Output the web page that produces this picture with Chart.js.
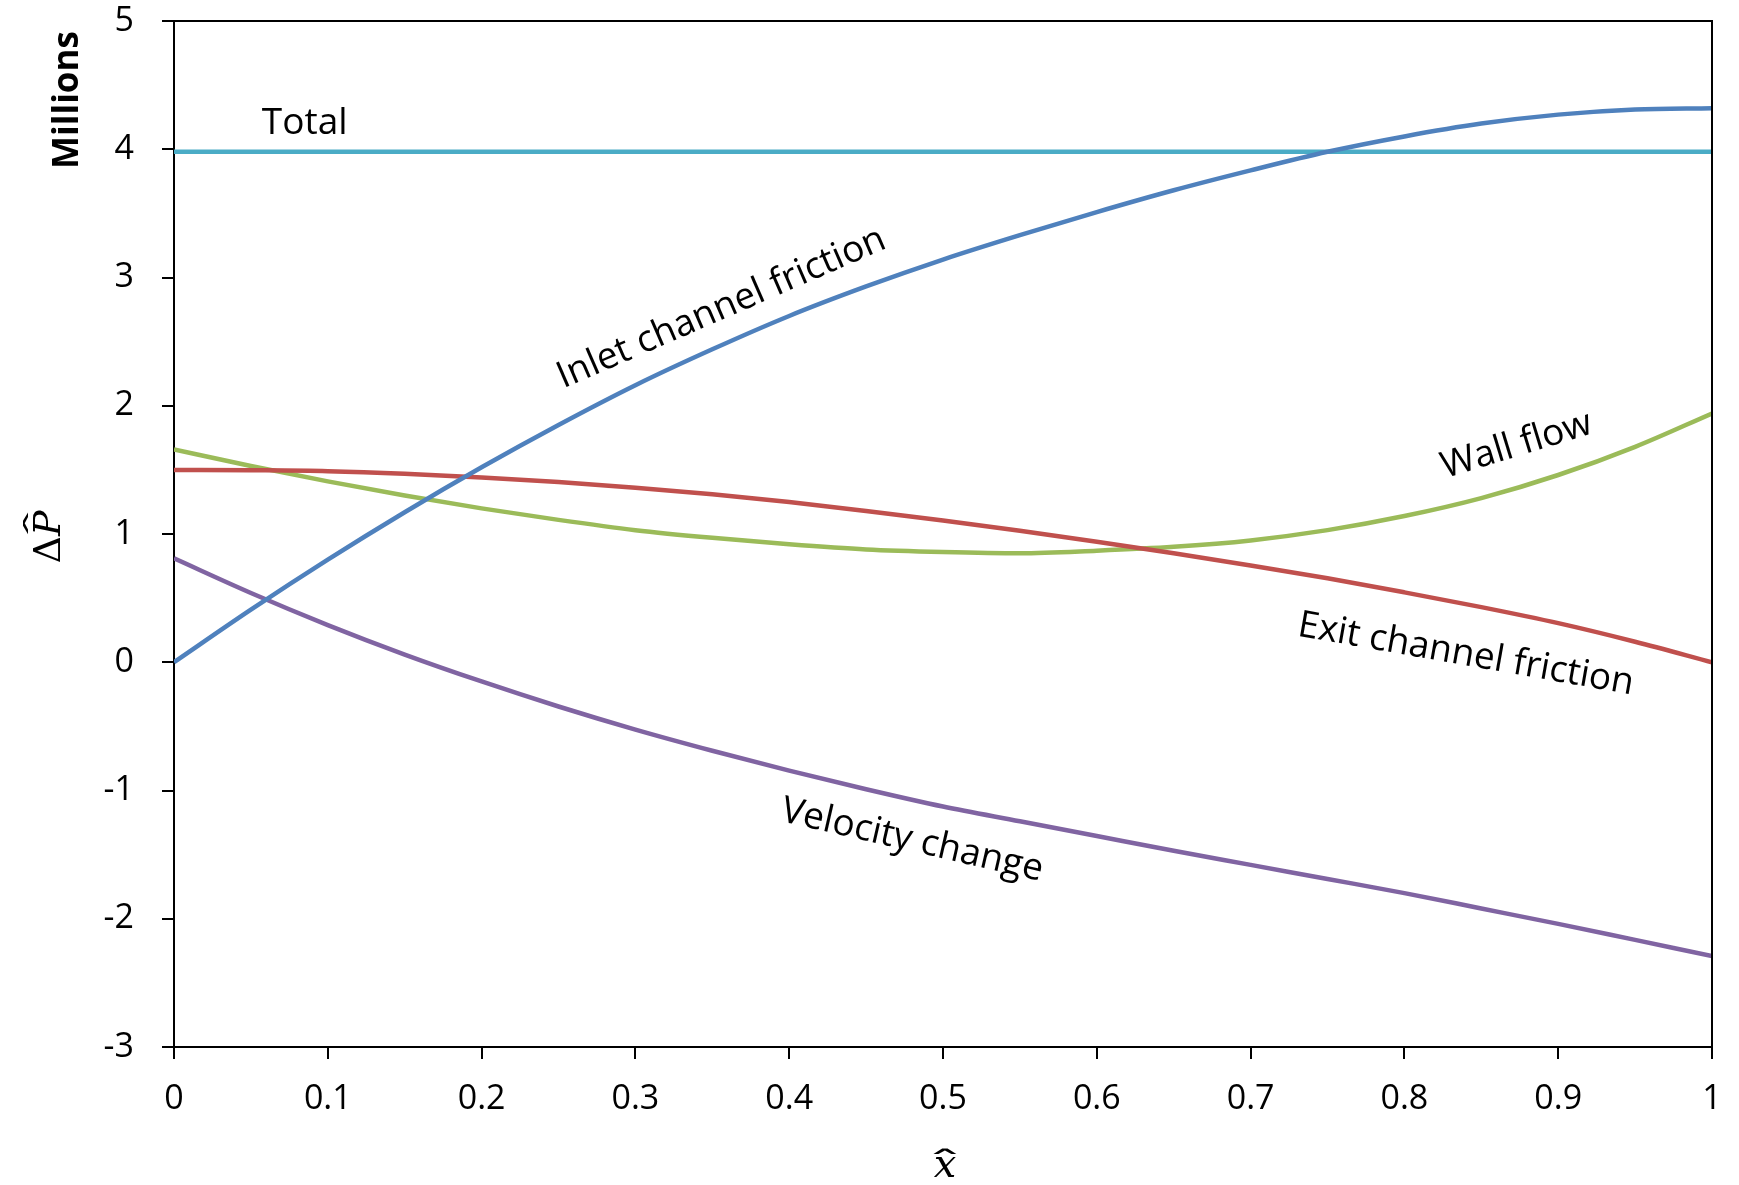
<!DOCTYPE html>
<html lang="en">
<head>
  <meta charset="UTF-8">
  <title>Pressure drop components</title>
  <script src="https://cdn.jsdelivr.net/npm/chart.js"></script>
  <style>
    html, body { margin: 0; padding: 0; background: #fff; }
  </style>
</head>
<body>
  <canvas id="chart" width="1739" height="1185"></canvas>

  <script>
    // values (y in millions)
    const xValues = [0, 0.05, 0.1, 0.15, 0.2, 0.25, 0.3, 0.35, 0.4, 0.45, 0.5,
                     0.55, 0.6, 0.65, 0.7, 0.75, 0.8, 0.85, 0.9, 0.95, 1];
    const inletFriction = [0, 0.41, 0.80, 1.17, 1.52, 1.85, 2.16, 2.44, 2.70, 2.93, 3.14,
                           3.33, 3.51, 3.68, 3.835, 3.98, 4.10, 4.20, 4.27, 4.31, 4.32];
    const exitFriction = [1.50, 1.497, 1.49, 1.47, 1.44, 1.405, 1.36, 1.31, 1.25, 1.18, 1.105,
                          1.025, 0.94, 0.85, 0.755, 0.655, 0.545, 0.43, 0.305, 0.16, 0];
    const wallFlow = [1.66, 1.53, 1.41, 1.30, 1.20, 1.11, 1.03, 0.97, 0.92, 0.88, 0.86,
                      0.85, 0.87, 0.90, 0.95, 1.03, 1.14, 1.28, 1.46, 1.68, 1.94];
    const velocityChange = [0.81, 0.54, 0.29, 0.06, -0.15, -0.345, -0.525, -0.69, -0.845, -0.99, -1.125,
                            -1.24, -1.355, -1.47, -1.58, -1.69, -1.80, -1.92, -2.04, -2.165, -2.29];
    const totalX = [0, 1];
    const totalValues = [3.98, 3.98];

    const xTicks = [0, 0.1, 0.2, 0.3, 0.4, 0.5, 0.6, 0.7, 0.8, 0.9, 1];
    const xTickLabels = ['0', '0.1', '0.2', '0.3', '0.4', '0.5', '0.6', '0.7', '0.8', '0.9', '1'];
    const yTicks = [-3, -2, -1, 0, 1, 2, 3, 4, 5];
    const yTickLabels = ['-3', '-2', '-1', '0', '1', '2', '3', '4', '5'];

    // text written next to the curves (data coordinates, angle in degrees)
    const curveLabels = [
      { text: 'Total', x: 0.085, y: 4.20, angle: 0 },
      { text: 'Inlet channel friction', x: 0.356, y: 2.76, angle: -23.5 },
      { text: 'Wall flow', x: 0.873, y: 1.69, angle: -17 },
      { text: 'Exit channel friction', x: 0.840, y: 0.06, angle: 10 },
      { text: 'Velocity change', x: 0.480, y: -1.39, angle: 13 }
    ];

    Chart.defaults.font.family = '"Open Sans", sans-serif';
    Chart.defaults.color = '#000';

    function points(xs, ys) {
      return xs.map((x, i) => ({ x: x, y: ys[i] }));
    }

    function series(label, xs, ys, color) {
      return {
        label: label,
        data: points(xs, ys),
        borderColor: color,
        backgroundColor: color,
        borderWidth: 4.5,
        pointRadius: 0,
        showLine: true,
        fill: false,
        cubicInterpolationMode: 'monotone'
      };
    }

    // letter with a wide hat on top, drawn in the current (possibly rotated) frame
    function hatted(ctx, letter, cx, baseline, size, lift) {
      ctx.font = 'italic ' + size + 'px "DejaVu Serif"';
      ctx.textAlign = 'center';
      ctx.textBaseline = 'alphabetic';
      ctx.fillText(letter, cx, baseline);
      ctx.save();
      ctx.translate(cx, baseline - size * (0.62 + lift));
      ctx.scale(2.3, 0.9);
      ctx.font = (size * 0.8) + 'px "DejaVu Sans"';
      ctx.fillText('\u02C6', 0, size * 0.55);
      ctx.restore();
    }

    // plot frame (top/right) plus axis titles and curve labels
    const decorations = {
      id: 'decorations',
      afterDatasetsDraw(chart) {
        const { ctx, chartArea: a, scales: { x, y } } = chart;
        ctx.save();
        ctx.strokeStyle = '#000';
        ctx.lineWidth = 2;
        ctx.beginPath();
        ctx.moveTo(a.left, a.top);
        ctx.lineTo(a.right, a.top);
        ctx.lineTo(a.right, a.bottom);
        ctx.stroke();

        ctx.fillStyle = '#000';
        ctx.textAlign = 'center';
        ctx.textBaseline = 'middle';
        ctx.font = '37px "Open Sans"';
        curveLabels.forEach(l => {
          ctx.save();
          ctx.translate(x.getPixelForValue(l.x), y.getPixelForValue(l.y));
          ctx.rotate(l.angle * Math.PI / 180);
          ctx.fillText(l.text, 0, 0);
          ctx.restore();
        });

        // "Millions"
        ctx.save();
        ctx.translate(68, 100);
        ctx.rotate(-Math.PI / 2);
        ctx.font = 'bold 35px "Open Sans"';
        ctx.fillText('Millions', 0, 0);
        ctx.restore();

        // y title: delta P hat
        ctx.save();
        ctx.translate(46, 537);
        ctx.rotate(-Math.PI / 2);
        ctx.textBaseline = 'alphabetic';
        ctx.textAlign = 'left';
        ctx.font = '38px "DejaVu Serif"';
        const dW = ctx.measureText('Δ').width;
        ctx.font = 'italic 38px "DejaVu Serif"';
        const pW = ctx.measureText('P').width;
        const start = -(dW + pW) / 2;
        ctx.font = '38px "DejaVu Serif"';
        ctx.fillText('Δ', start, 14);
        hatted(ctx, 'P', start + dW + pW / 2, 14, 38, 0.26);
        ctx.restore();

        // x title: x hat
        hatted(ctx, 'x', 945, 1177, 40, 0);
        ctx.restore();
      }
    };

    const axisGrid = { drawOnChartArea: false, drawTicks: true, tickLength: 12, color: '#000', lineWidth: 2 };
    const axisBorder = { display: true, color: '#000', width: 2 };

    new Chart(document.getElementById('chart').getContext('2d'), {
      type: 'scatter',
      data: {
        datasets: [
          series('Inlet channel friction', xValues, inletFriction, '#4f81bd'),
          series('Exit channel friction', xValues, exitFriction, '#c0504d'),
          series('Wall flow', xValues, wallFlow, '#9bbb59'),
          series('Velocity change', xValues, velocityChange, '#8064a2'),
          series('Total', totalX, totalValues, '#4bacc6')
        ]
      },
      options: {
        responsive: false,
        animation: false,
        layout: { padding: { top: 21, right: 27, left: 0, bottom: 0 } },
        plugins: {
          legend: { display: false },
          tooltip: { enabled: false }
        },
        scales: {
          x: {
            type: 'linear',
            min: 0,
            max: 1,
            afterBuildTicks: s => { s.ticks = xTicks.map(v => ({ value: v })); },
            afterFit: s => { s.height = 138; s.paddingLeft = 0; s.paddingRight = 0; },
            ticks: {
              callback: (v, i) => xTickLabels[i],
              font: { size: 34 },
              padding: 20,
              maxRotation: 0,
              autoSkip: false
            },
            grid: axisGrid,
            border: axisBorder
          },
          y: {
            type: 'linear',
            min: -3,
            max: 5,
            afterBuildTicks: s => { s.ticks = yTicks.map(v => ({ value: v })); },
            afterFit: s => { s.width = 174; s.paddingTop = 0; s.paddingBottom = 0; },
            ticks: {
              callback: (v, i) => yTickLabels[i],
              font: { size: 34 },
              padding: 28
            },
            grid: axisGrid,
            border: axisBorder
          }
        }
      },
      plugins: [decorations]
    });
  </script>
</body>
</html>
